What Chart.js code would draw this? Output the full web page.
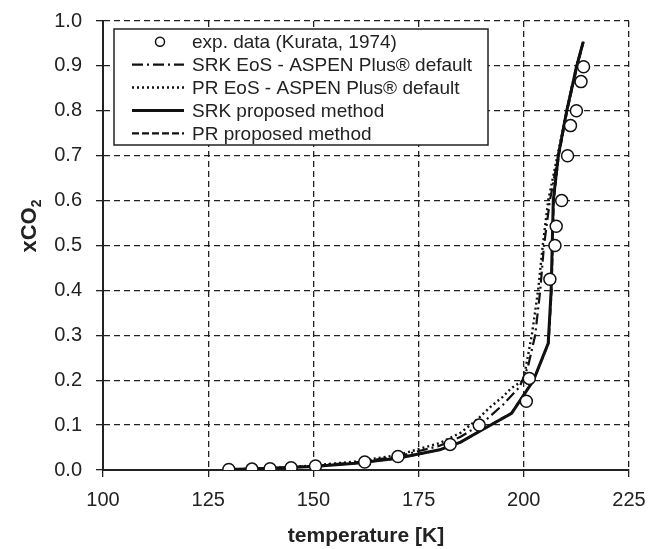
<!DOCTYPE html>
<html>
<head>
<meta charset="utf-8">
<script src="https://cdn.jsdelivr.net/npm/chart.js@4.4.1/dist/chart.umd.min.js"></script>
<style>
  html, body { margin: 0; padding: 0; background: #fff; }
  #wrap { width: 649px; height: 549px; }
</style>
</head>
<body>
<div id="wrap"><canvas id="grafico"></canvas></div>
<script>
// exp. data (Kurata, 1974)
const expT = [129.9, 135.4, 139.7, 144.7, 150.5, 162.2, 170.1, 182.5, 189.4, 200.6, 201.3, 206.2, 207.4, 207.7, 209.0, 210.4, 211.1, 212.5, 213.6, 214.2];
const expX = [0.001, 0.002, 0.003, 0.005, 0.009, 0.018, 0.030, 0.057, 0.100, 0.153, 0.204, 0.425, 0.500, 0.543, 0.600, 0.700, 0.767, 0.800, 0.865, 0.898];

// SRK EoS - ASPEN Plus default
const srkAspenT = [130, 140, 150, 160, 170, 180, 185, 190, 195, 199, 201, 202.7, 203.9, 204.8, 206.2, 208.2, 210.2, 212.5, 214.2];
const srkAspenX = [0.001, 0.004, 0.009, 0.017, 0.030, 0.054, 0.074, 0.103, 0.145, 0.185, 0.23, 0.30, 0.40, 0.50, 0.60, 0.70, 0.80, 0.90, 0.955];

// PR EoS - ASPEN Plus default
const prAspenT = [130, 140, 150, 160, 170, 180, 185, 189, 192, 195, 197, 199.9, 201.9, 203.4, 204.5, 205.8, 208, 210.2, 212.5, 214.2];
const prAspenX = [0.001, 0.004, 0.010, 0.019, 0.033, 0.060, 0.083, 0.113, 0.140, 0.163, 0.182, 0.20, 0.30, 0.40, 0.50, 0.60, 0.70, 0.80, 0.90, 0.955];

// SRK proposed method
const srkPropT = [130, 140, 150, 160, 170, 180, 185, 189.6, 197.1, 202.3, 205.8, 206.5, 207.0, 208.2, 210.2, 212.6, 214.1];
const srkPropX = [0.001, 0.004, 0.008, 0.015, 0.026, 0.045, 0.062, 0.087, 0.126, 0.20, 0.282, 0.40, 0.60, 0.70, 0.80, 0.90, 0.953];

// PR proposed method
const prPropT = [130, 140, 150, 160, 170, 180, 185, 189.6, 197.1, 202.3, 205.9, 206.6, 207.1, 208.3, 210.3, 212.7, 214.2];
const prPropX = [0.001, 0.004, 0.008, 0.015, 0.026, 0.045, 0.062, 0.087, 0.127, 0.20, 0.283, 0.40, 0.60, 0.70, 0.80, 0.90, 0.955];

const xTicks = [100, 125, 150, 175, 200, 225];
const yTicks = [0, 0.1, 0.2, 0.3, 0.4, 0.5, 0.6, 0.7, 0.8, 0.9, 1.0];

const FONTE = "'Liberation Sans', Arial, sans-serif";
const pares = (xs, ys) => xs.map((x, i) => ({ x, y: ys[i] }));

const datasets = [
  {
    label: "exp. data (Kurata, 1974)",
    data: pares(expT, expX),
    showLine: false,
    pointRadius: 6,
    pointBackgroundColor: "#fff",
    pointBorderColor: "#111",
    pointBorderWidth: 1.5,
    order: 0,
  },
  {
    label: "SRK EoS - ASPEN Plus® default",
    data: pares(srkAspenT, srkAspenX),
    showLine: true,
    borderColor: "#111",
    borderWidth: 2.2,
    borderDash: [11, 4, 2, 4],
    pointRadius: 0,
    order: 3,
  },
  {
    label: "PR EoS - ASPEN Plus® default",
    data: pares(prAspenT, prAspenX),
    showLine: true,
    borderColor: "#111",
    borderWidth: 2.4,
    borderDash: [2, 3],
    pointRadius: 0,
    order: 4,
  },
  {
    label: "SRK proposed method",
    data: pares(srkPropT, srkPropX),
    showLine: true,
    borderColor: "#111",
    borderWidth: 3,
    pointRadius: 0,
    order: 1,
  },
  {
    label: "PR proposed method",
    data: pares(prPropT, prPropX),
    showLine: true,
    borderColor: "#111",
    borderWidth: 2.2,
    borderDash: [7, 3],
    pointRadius: 0,
    order: 2,
  },
];

// legenda desenhada dentro da area do grafico
const legendaInterna = {
  id: "legendaInterna",
  afterDatasetsDraw(chart) {
    const ctx = chart.ctx;
    const x0 = 114, y0 = 29, w = 374, h = 116;
    ctx.save();
    ctx.fillStyle = "#fff";
    ctx.fillRect(x0, y0, w, h);
    ctx.strokeStyle = "#222";
    ctx.lineWidth = 1.5;
    ctx.strokeRect(x0, y0, w, h);
    ctx.font = "19px " + FONTE;
    ctx.textBaseline = "middle";
    chart.data.datasets.forEach((ds, i) => {
      const yc = y0 + 12.7 + i * 22.9;
      if (ds.showLine === false) {
        ctx.beginPath();
        ctx.arc(160, yc, 4.5, 0, Math.PI * 2);
        ctx.fillStyle = "#fff";
        ctx.fill();
        ctx.lineWidth = 1.5;
        ctx.strokeStyle = "#111";
        ctx.stroke();
      } else {
        ctx.beginPath();
        ctx.setLineDash(ds.borderDash || []);
        ctx.lineWidth = ds.borderWidth;
        ctx.strokeStyle = "#111";
        ctx.moveTo(132, yc);
        ctx.lineTo(184, yc);
        ctx.stroke();
        ctx.setLineDash([]);
      }
      ctx.fillStyle = "#222";
      ctx.fillText(ds.label, 192, yc + 1);
    });
    ctx.restore();
  },
};

// titulo do eixo y com subscrito
const tituloY = {
  id: "tituloY",
  afterDraw(chart) {
    const ctx = chart.ctx;
    ctx.save();
    ctx.translate(30, 226);
    ctx.rotate(-Math.PI / 2);
    ctx.fillStyle = "#222";
    ctx.textBaseline = "middle";
    ctx.textAlign = "left";
    ctx.font = "bold 22px " + FONTE;
    const principal = "xCO";
    const wp = ctx.measureText(principal).width;
    ctx.font = "bold 14px " + FONTE;
    const ws = ctx.measureText("2").width;
    const inicio = -(wp + ws) / 2;
    ctx.font = "bold 22px " + FONTE;
    ctx.fillText(principal, inicio, 0);
    ctx.font = "bold 14px " + FONTE;
    ctx.fillText("2", inicio + wp, 7);
    ctx.restore();
  },
};

const ctx = document.getElementById("grafico").getContext("2d");
new Chart(ctx, {
  type: "scatter",
  data: { datasets },
  plugins: [legendaInterna, tituloY],
  options: {
    responsive: true,
    maintainAspectRatio: false,
    animation: false,
    layout: { padding: { top: 21, right: 20, left: 0, bottom: 0 } },
    plugins: {
      legend: { display: false },
      tooltip: { enabled: false },
    },
    scales: {
      x: {
        type: "linear",
        min: 100,
        max: 225,
        afterBuildTicks: (scale) => { scale.ticks = xTicks.map((v) => ({ value: v })); },
        afterFit: (scale) => {
          scale.height = 79;
          scale.paddingLeft = 0;
          scale.paddingRight = 0;
        },
        ticks: {
          color: "#222",
          font: { family: FONTE, size: 20 },
          padding: 11,
          callback: (v) => String(v),
        },
        grid: {
          color: "#222",
          lineWidth: 1.3,
          tickLength: 7,
          tickColor: "#222",
          tickBorderDash: [],
        },
        border: { display: true, color: "#222", width: 2, dash: [6, 4] },
        title: {
          display: true,
          text: "temperature [K]",
          color: "#222",
          font: { family: FONTE, size: 21, weight: "bold" },
          padding: { top: 14, bottom: 0 },
        },
      },
      y: {
        type: "linear",
        min: 0,
        max: 1,
        afterBuildTicks: (scale) => { scale.ticks = yTicks.map((v) => ({ value: v })); },
        afterFit: (scale) => {
          scale.width = 103;
          scale.paddingTop = 0;
          scale.paddingBottom = 0;
        },
        ticks: {
          color: "#222",
          font: { family: FONTE, size: 20 },
          padding: 14,
          callback: (v) => Number(v).toFixed(1),
        },
        grid: {
          color: "#222",
          lineWidth: 1.3,
          tickLength: 7,
          tickColor: "#222",
          tickBorderDash: [],
        },
        border: { display: true, color: "#222", width: 2, dash: [6, 4] },
      },
    },
  },
});
</script>
</body>
</html>
